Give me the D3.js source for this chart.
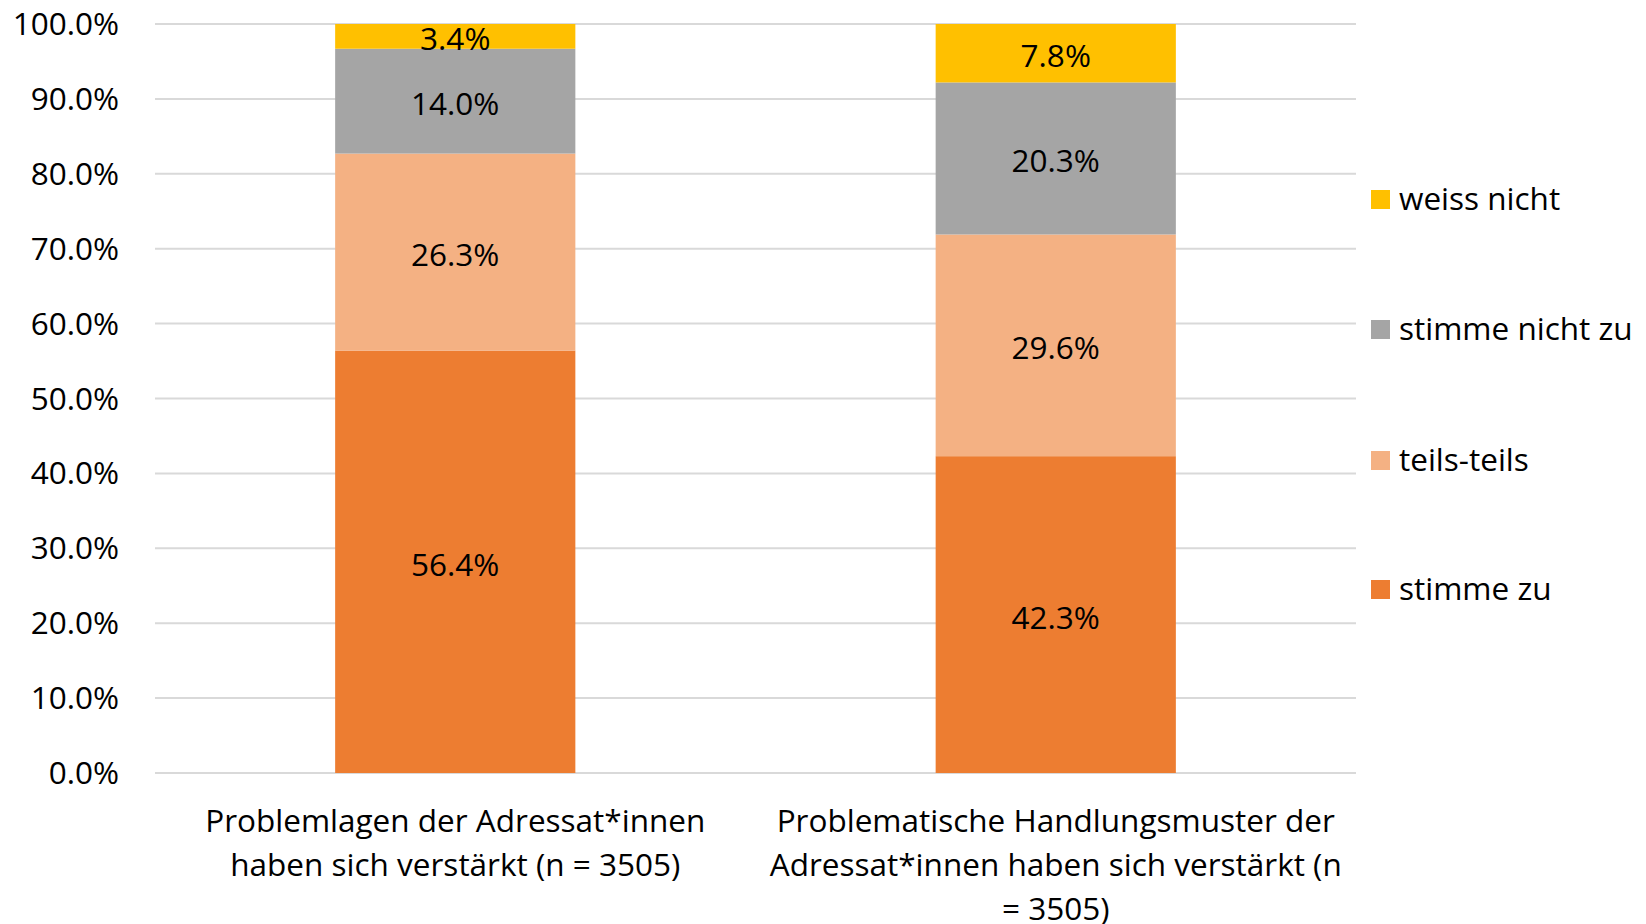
<!DOCTYPE html>
<html>
<head>
<meta charset="utf-8">
<script src="https://cdn.jsdelivr.net/npm/d3@7"></script>
<style>
  body { margin: 0; background: #fff; }
  text { font-family: "Open Sans", sans-serif; fill: #000; }
</style>
</head>
<body>
<svg width="1646" height="924"></svg>
<script>
// data
var categories = ["Problemlagen", "Handlungsmuster"];
var categoryLines = [
  ["Problemlagen der Adressat*innen", "haben sich verstärkt (n = 3505)"],
  ["Problematische Handlungsmuster der", "Adressat*innen haben sich verstärkt (n", "= 3505)"]
];
var seriesNames = ["stimme zu", "teils-teils", "stimme nicht zu", "weiss nicht"];
var stimmeZu = [56.4, 42.3];
var teilsTeils = [26.3, 29.6];
var stimmeNichtZu = [14.0, 20.3];
var weissNicht = [3.4, 7.8];
var yTicks = [0, 10, 20, 30, 40, 50, 60, 70, 80, 90, 100];

var colors = ["#ED7D31", "#F4B183", "#A5A5A5", "#FFC000"];

var svg = d3.select("svg");
var plotLeft = 155, plotRight = 1356, plotTop = 24, plotBottom = 773;
var fontSize = "31.5px";

var rows = categories.map(function(c, i) {
  return {cat: c, "stimme zu": stimmeZu[i], "teils-teils": teilsTeils[i],
          "stimme nicht zu": stimmeNichtZu[i], "weiss nicht": weissNicht[i]};
});
var stacked = d3.stack().keys(seriesNames)(rows);

var x = d3.scaleBand().domain(categories).range([plotLeft, plotRight])
    .paddingInner(0.6).paddingOuter(0.3);
var y = d3.scaleLinear().domain([0, 100]).range([plotBottom, plotTop]);
var color = d3.scaleOrdinal().domain(seriesNames).range(colors);

// gridlines
svg.append("g")
  .selectAll("line")
  .data(yTicks)
  .enter().append("line")
    .attr("x1", plotLeft).attr("x2", plotRight)
    .attr("y1", function(d) { return y(d); })
    .attr("y2", function(d) { return y(d); })
    .attr("stroke", "#D9D9D9")
    .attr("stroke-width", 2);

// y labels
svg.append("g")
  .selectAll("text")
  .data(yTicks)
  .enter().append("text")
    .attr("x", 119)
    .attr("y", function(d) { return y(d); })
    .attr("dy", "0.35em")
    .attr("text-anchor", "end")
    .style("font-size", fontSize)
    .text(function(d) { return d.toFixed(1) + "%"; });

// bars
var layer = svg.append("g").selectAll("g")
  .data(stacked)
  .enter().append("g")
    .attr("fill", function(d) { return color(d.key); });

layer.selectAll("rect")
  .data(function(d) { return d; })
  .enter().append("rect")
    .attr("x", function(d) { return x(d.data.cat); })
    .attr("width", x.bandwidth())
    .attr("y", function(d) { return y(Math.min(d[1], 100)); })
    .attr("height", function(d) { return y(d[0]) - y(Math.min(d[1], 100)); });

var labels = svg.append("g").selectAll("g")
  .data(stacked)
  .enter().append("g");

labels.selectAll("text")
  .data(function(d) { return d; })
  .enter().append("text")
    .attr("x", function(d) { return x(d.data.cat) + x.bandwidth() / 2; })
    .attr("y", function(d) { return y((d[0] + Math.min(d[1], 100)) / 2) + 3; })
    .attr("dy", "0.35em")
    .attr("text-anchor", "middle")
    .style("font-size", fontSize)
    .text(function(d) { return (d[1] - d[0]).toFixed(1) + "%"; });

// category labels
svg.append("g")
  .selectAll("text")
  .data(categories)
  .enter().append("text")
    .attr("text-anchor", "middle")
    .style("font-size", fontSize)
    .each(function(d, i) {
      var t = d3.select(this);
      categoryLines[i].forEach(function(line, j) {
        t.append("tspan")
          .attr("x", x(d) + x.bandwidth() / 2)
          .attr("y", 821 + j * 44)
          .attr("dy", "0.35em")
          .text(line);
      });
    });

// legend
var legendY = [589, 460, 329, 199];
var legend = svg.append("g")
  .selectAll("g")
  .data(seriesNames)
  .enter().append("g")
    .attr("transform", function(d, i) { return "translate(1371," + legendY[i] + ")"; });

legend.append("rect")
  .attr("x", 0).attr("y", -9)
  .attr("width", 19).attr("height", 19)
  .attr("fill", function(d) { return color(d); });

legend.append("text")
  .attr("x", 28)
  .attr("dy", "0.35em")
  .style("font-size", fontSize)
  .text(function(d) { return d; });
</script>
</body>
</html>
